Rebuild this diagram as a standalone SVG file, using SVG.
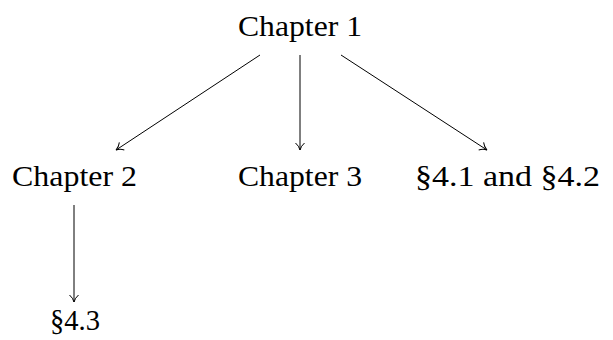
<svg xmlns="http://www.w3.org/2000/svg" width="613" height="340" viewBox="0 0 613 340">
<style>
text{font-family:"Liberation Serif","DejaVu Serif",serif;font-size:29px;fill:#000;text-anchor:middle}
.e{stroke:#000;stroke-width:1;fill:none;marker-end:url(#a)}
</style>
<defs>
<marker id="a" markerWidth="12" markerHeight="12" refX="10" refY="6" orient="auto" markerUnits="userSpaceOnUse">
<path d="M3,1.5 Q6,5 10,6 Q6,7 3,10.5" fill="none" stroke="#000" stroke-width="1"/>
</marker>
</defs>
<rect width="613" height="340" fill="#fff"/>
<g id="connectors">
<line class="e" x1="260" y1="55" x2="116" y2="150"/>
<line class="e" x1="300" y1="55" x2="300" y2="150"/>
<line class="e" x1="341" y1="55" x2="487" y2="150"/>
<line class="e" x1="74" y1="205" x2="74" y2="302"/>
</g>
<g id="ch1"><text x="300" y="36" textLength="124" lengthAdjust="spacingAndGlyphs">Chapter 1</text></g>
<g id="ch2"><text x="74.5" y="186" textLength="125" lengthAdjust="spacingAndGlyphs">Chapter 2</text></g>
<g id="ch3"><text x="300" y="186" textLength="124" lengthAdjust="spacingAndGlyphs">Chapter 3</text></g>
<g id="s41"><text x="507.5" y="186" textLength="185" lengthAdjust="spacingAndGlyphs">§4.1 and §4.2</text></g>
<g id="s43"><text x="75" y="330" textLength="50" lengthAdjust="spacingAndGlyphs">§4.3</text></g>
</svg>
